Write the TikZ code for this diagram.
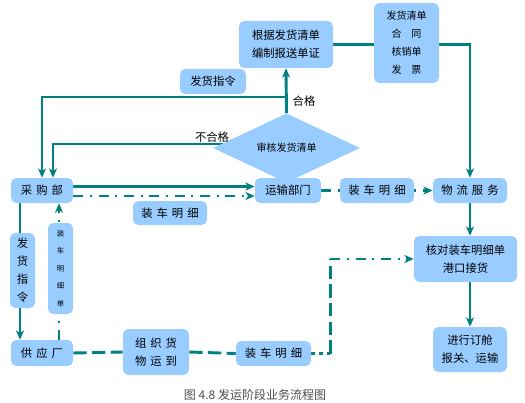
\documentclass[tikz,border=0pt]{standalone}
\usepackage{fontspec}
\setmainfont{Noto Sans CJK SC}
\usetikzlibrary{shapes.geometric,arrows.meta,calc,backgrounds}
\definecolor{BoxBlue}{HTML}{99CCFF}
\definecolor{LineTeal}{HTML}{008080}
\newcommand{\ls}{\hspace{3pt}}

\begin{document}
\begin{tikzpicture}[x=0.75pt, y=-0.75pt,
    box/.style={fill=BoxBlue, rounded corners=4pt, align=center, inner sep=0pt,
                font=\fontsize{8.5}{13.5}\selectfont},
    flow/.style={draw=LineTeal, line width=2.2pt},
    tip/.style={-{Stealth[length=7pt,width=6pt,inset=2pt]}},
    dashdot/.style={flow, dash pattern=on 7.5pt off 5pt on 1.5pt off 5pt},
    longdash/.style={flow, dash pattern=on 10pt off 4pt},
    shortdash/.style={flow, dash pattern=on 3pt off 3pt}]
    \useasboundingbox (0,0) rectangle (525,403);

    % upper part
    \node[box, minimum width=70.5pt, minimum height=35.25pt] (bz) at (286,44.5) {根据发货清单\\编制报送单证};
    \node[box, minimum width=48.75pt, minimum height=60pt, font=\fontsize{7.5}{13.5}\selectfont] (qd) at (406.5,43) {发货清单\\合\quad 同\\核销单\\发\quad 票};
    \node[box, minimum width=49.5pt, minimum height=18.75pt] (zl) at (213,81.5) {发货指令};
    \node[diamond, fill=BoxBlue, inner sep=0pt, minimum width=110.25pt, minimum height=30pt,
          font=\fontsize{7.5}{9}\selectfont] (sh) at (286.5,148) {审核发货清单};

    % middle row
    \node[box, minimum width=46.5pt, minimum height=18.75pt] (cg) at (42,190.5) {采\ls 购\ls 部};
    \node[box, minimum width=49.5pt, minimum height=18.75pt] (ys) at (288,190.5) {运输部门};
    \node[box, minimum width=55.5pt, minimum height=18.75pt] (wl) at (470,190.5) {物\ls 流\ls 服\ls 务};
    \node[box, minimum width=77.25pt, minimum height=34.5pt] (hd) at (465.5,259) {核对装车明细单\\港口接货};
    \node[box, minimum width=55.5pt, minimum height=33.75pt] (dc) at (470,349.5) {进行订舱\\报关、运输};

    % lower row
    \node[box, minimum width=46.5pt, minimum height=19.5pt] (gy) at (42,353) {供\ls 应\ls 厂};
    \node[box, minimum width=49.5pt, minimum height=34.5pt] (zz) at (156,352) {组\ls 织\ls 货\\物\ls 运\ls 到};
    \node[box, minimum width=56.25pt, minimum height=18.75pt] (mx3) at (273.5,353.5) {装\ls 车\ls 明\ls 细};

    \coordinate (kd) at ($(mx3.east)+(19,0)$);
    \coordinate (kt) at (kd |- hd.west);

    \begin{pgfonlayer}{background}
        \draw[flow, tip] (bz.east) -| (wl.north);
        \draw[flow, tip] (sh.north) -- (bz.south);
        \draw[flow, tip] (sh.north |- 0,97) -| (cg.north);
        \draw[flow, tip] ($(sh.west)+(15,-4)$) -| ($(cg.north)+(11,0)$);
        \draw[flow] (sh.south) -- (ys.north);
        \draw[flow, tip] ($(cg.east)+(0,-4)$) -- ($(ys.west)+(0,-4)$);
        \draw[dashdot, tip] ($(cg.east)+(0,5.5)$) -- ($(ys.west)+(0,5.5)$);
        \draw[dashdot, tip] (ys.east) -- (wl.west);
        \draw[flow, tip] (wl.south) -- (wl.south |- hd.north);
        \draw[flow, tip] (dc.north |- hd.south) -- (dc.north);
        \draw[flow, tip] ($(cg.south)+(-22,0)$) -- ($(gy.north)+(-22,0)$);
        \draw[dashdot, tip] ($(gy.north)+(17,0)$) -- ($(cg.south)+(17,0)$);
        \draw[longdash] (gy.east) -- (zz.west);
        \draw[longdash] (zz.east) -- (mx3.west);
        \draw[shortdash] (mx3.east) -- (kd);
        \draw[longdash] (kd) -- (kt);
        \draw[dashdot, tip] (kt) -- (hd.west);
    \end{pgfonlayer}

    % labels sitting on the lines
    \node[box, minimum width=55.5pt, minimum height=18.75pt] (mx1) at (377,190.5) {装\ls 车\ls 明\ls 细};
    \node[box, minimum width=55.5pt, minimum height=18pt] (mx2) at (170,213) {装\ls 车\ls 明\ls 细};
    \node[box, minimum width=18.75pt, minimum height=56.25pt] (zl2) at (22.5,270.5) {发\\货\\指\\令};
    \node[box, minimum width=18.75pt, minimum height=68.25pt, font=\fontsize{5.5}{13.2}\selectfont] (mx4) at (60.5,268.5) {装\\车\\明\\细\\单};
    \node[font=\fontsize{8.5}{10}\selectfont] (hg) at (304,101) {合格};
    \node[font=\fontsize{8.5}{10}\selectfont] (bhg) at (212,137) {不合格};

    \node[font=\fontsize{9}{10}\selectfont, text=black!70] (cap) at (255,394.5) {图 4.8 发运阶段业务流程图};
\end{tikzpicture}
\end{document}
